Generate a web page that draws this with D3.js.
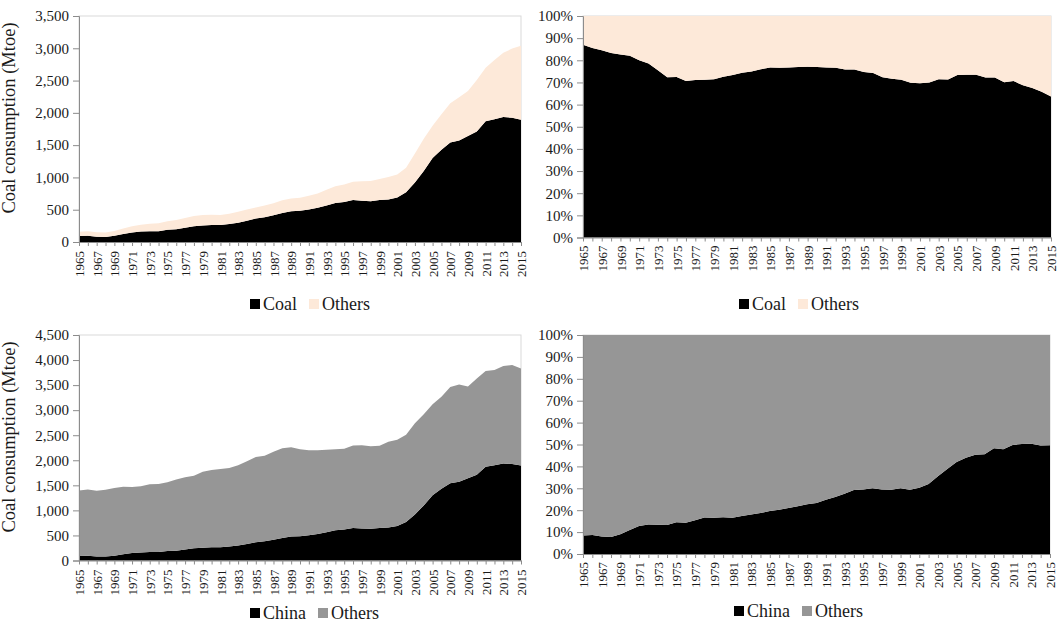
<!DOCTYPE html>
<html>
<head>
<meta charset="utf-8">
<script src="https://cdn.jsdelivr.net/npm/d3@7"></script>
<style>
  html, body { margin: 0; padding: 0; background: #fff; }
  svg { display: block; }
  text { font-family: "Liberation Serif", "Times New Roman", serif; fill: #1a1a1a; }
</style>
</head>
<body>
<svg id="chart" width="1059" height="625"></svg>
<script>
// ---------- DATA ----------
const years = [1965,1966,1967,1968,1969,1970,1971,1972,1973,1974,1975,1976,1977,1978,1979,
  1980,1981,1982,1983,1984,1985,1986,1987,1988,1989,1990,1991,1992,1993,1994,1995,1996,1997,
  1998,1999,2000,2001,2002,2003,2004,2005,2006,2007,2008,2009,2010,2011,2012,2013,2014,2015];

// China coal consumption (Mtoe)
const chinaCoal = [92,95,80,78,95,125,148,162,168,168,190,196,220,245,256,
  262,265,278,298,330,365,385,415,450,478,483,505,530,565,605,620,650,640,
  632,650,660,690,770,920,1100,1300,1430,1540,1570,1640,1710,1870,1900,1935,1925,1895];

// China other energy (Mtoe)
const chinaOthers = [68,70,70,70,75,85,97,106,114,122,130,144,152,157,162,
  160,155,160,170,175,170,180,185,195,197,202,210,220,245,260,270,285,300,
  313,325,345,355,380,450,500,500,550,610,670,700,800,830,920,995,1070,1145];

// Coal share of China energy (%)
const coalShare = [87,85.5,84.5,83.3,82.6,82,80,78.5,75.5,72.3,72.5,70.7,71.1,71.2,71.5,
  72.6,73.4,74.4,75,76,76.7,76.6,76.8,77,77.1,77,76.8,76.6,75.9,75.8,74.7,74.3,72.3,
  71.7,71.2,69.9,69.6,70,71.5,71.3,73.4,73.5,73.5,72.2,72.2,70.1,70.6,68.7,67.5,65.8,63.7];

// Rest-of-world coal consumption (Mtoe)
const worldOthers = [1303,1320,1310,1332,1350,1345,1317,1318,1352,1357,1370,1419,1440,1445,1514,
  1543,1560,1567,1602,1650,1700,1705,1755,1790,1782,1737,1695,1670,1645,1615,1610,1645,1660,
  1648,1640,1710,1720,1740,1820,1820,1820,1840,1920,1940,1830,1920,1910,1900,1945,1975,1935];

// China share of world coal (%)
const chinaShare = [8.5,8.7,8,7.8,9,11,12.8,13.5,13.3,13.2,14.5,14.3,15.4,16.7,16.6,
  16.8,16.6,17.3,18,18.7,19.6,20.2,21,21.8,22.7,23.3,24.8,26,27.5,29.2,29.4,30,29.4,
  29.3,30,29.3,30.3,32,35.5,38.8,42,44,45.3,45.5,48.3,47.8,49.8,50.2,50.3,49.6,49.7];

const absTicksTop = [0,500,1000,1500,2000,2500,3000,3500];
const absTicksBottom = [0,500,1000,1500,2000,2500,3000,3500,4000,4500];
const pctTicks = [0,10,20,30,40,50,60,70,80,90,100];

const legendTop = ["Coal", "Others"];
const legendBottom = ["China", "Others"];
const yTitle = "Coal consumption (Mtoe)";

// ---------- DRAW ----------
const svg = d3.select("#chart");
const fmtAbs = d3.format(",");
const fmtPct = d => d + "%";

function panel(cfg) {
  const [x0, x1, y0, y1] = cfg.box;
  const g = svg.append("g");
  const x = d3.scalePoint().domain(years).range([x0, x1]);
  const y = d3.scaleLinear().domain([0, cfg.max]).range([y1, y0]);

  const rows = years.map((yr, i) => ({ year: yr, a: cfg.a[i], b: cfg.b[i] }));
  const stack = d3.stack().keys(["a", "b"]);
  if (cfg.expand) stack.offset(d3.stackOffsetExpand);
  const series = stack(rows);
  const k = cfg.expand ? 100 : 1;

  // plot border
  g.append("rect").attr("x", x0).attr("y", y0).attr("width", x1 - x0).attr("height", y1 - y0)
    .attr("fill", "none").attr("stroke", "#d9d9d9").attr("stroke-width", 1);

  const area = d3.area()
    .x(d => x(d.data.year))
    .y0(d => y(d[0] * k))
    .y1(d => y(d[1] * k));

  g.selectAll("path.area").data(series).join("path")
    .attr("class", "area")
    .attr("d", area)
    .attr("fill", (d, i) => cfg.colors[i]);

  // y axis
  const ya = g.append("g").attr("transform", `translate(${x0},0)`)
    .call(d3.axisLeft(y).tickValues(cfg.ticks).tickSize(6).tickPadding(4)
      .tickFormat(cfg.expand ? fmtPct : fmtAbs));
  ya.select(".domain").attr("stroke", "#8c8c8c");
  ya.selectAll(".tick line").attr("stroke", "#8c8c8c");
  ya.selectAll(".tick text").style("font-size", "15px").attr("fill", "#1a1a1a")
    .style("font-family", '"Liberation Serif", "Times New Roman", serif');

  // x axis
  const xa = g.append("g").attr("transform", `translate(0,${y1})`)
    .call(d3.axisBottom(x).tickSize(4).tickSizeOuter(0)
      .tickFormat((d, i) => i % 2 === 0 ? d : ""));
  xa.select(".domain").attr("stroke", "#8c8c8c");
  xa.selectAll(".tick line").attr("stroke", "#8c8c8c");
  xa.selectAll(".tick text")
    .attr("transform", "rotate(-90)")
    .attr("x", -cfg.labelGap).attr("y", 0).attr("dy", "0.35em")
    .attr("text-anchor", "end")
    .attr("fill", "#1a1a1a")
    .style("font-size", "13px")
    .style("font-family", '"Liberation Serif", "Times New Roman", serif');

  // y title
  if (cfg.title) {
    g.append("text")
      .attr("transform", `translate(${cfg.titleX},${cfg.titleY}) rotate(-90)`)
      .attr("text-anchor", "middle")
      .style("font-size", "18.5px")
      .text(yTitle);
  }

  // legend
  let lx = cfg.legendX;
  const ly = cfg.legendY;
  cfg.legend.forEach((name, i) => {
    g.append("rect").attr("x", lx).attr("y", ly - 5).attr("width", 10).attr("height", 10)
      .attr("fill", cfg.colors[i]);
    const t = g.append("text").attr("x", lx + 13).attr("y", ly).attr("dy", "0.35em")
      .style("font-size", "18px").text(name);
    lx += 13 + t.node().getComputedTextLength() + 12;
  });
}

const peach = "#fde9d9", grey = "#969696", black = "#000000";

panel({ box: [79, 521, 16, 242], max: 3500, ticks: absTicksTop, a: chinaCoal, b: chinaOthers,
  colors: [black, peach], legend: legendTop, legendX: 250, legendY: 304,
  title: true, titleX: 15, titleY: 118, labelGap: 9 });

panel({ box: [583, 1051, 16, 237.5], max: 100, ticks: pctTicks, expand: true,
  a: coalShare, b: coalShare.map(v => 100 - v),
  colors: [black, peach], legend: legendTop, legendX: 739, legendY: 304, labelGap: 8 });

panel({ box: [79, 521, 335, 560.5], max: 4500, ticks: absTicksBottom, a: chinaCoal, b: worldOthers,
  colors: [black, grey], legend: legendBottom, legendX: 250, legendY: 613,
  title: true, titleX: 15, titleY: 437, labelGap: 9 });

panel({ box: [583, 1050, 335, 554], max: 100, ticks: pctTicks, expand: true,
  a: chinaShare, b: chinaShare.map(v => 100 - v),
  colors: [black, grey], legend: legendBottom, legendX: 734, legendY: 611, labelGap: 8 });
</script>
</body>
</html>
